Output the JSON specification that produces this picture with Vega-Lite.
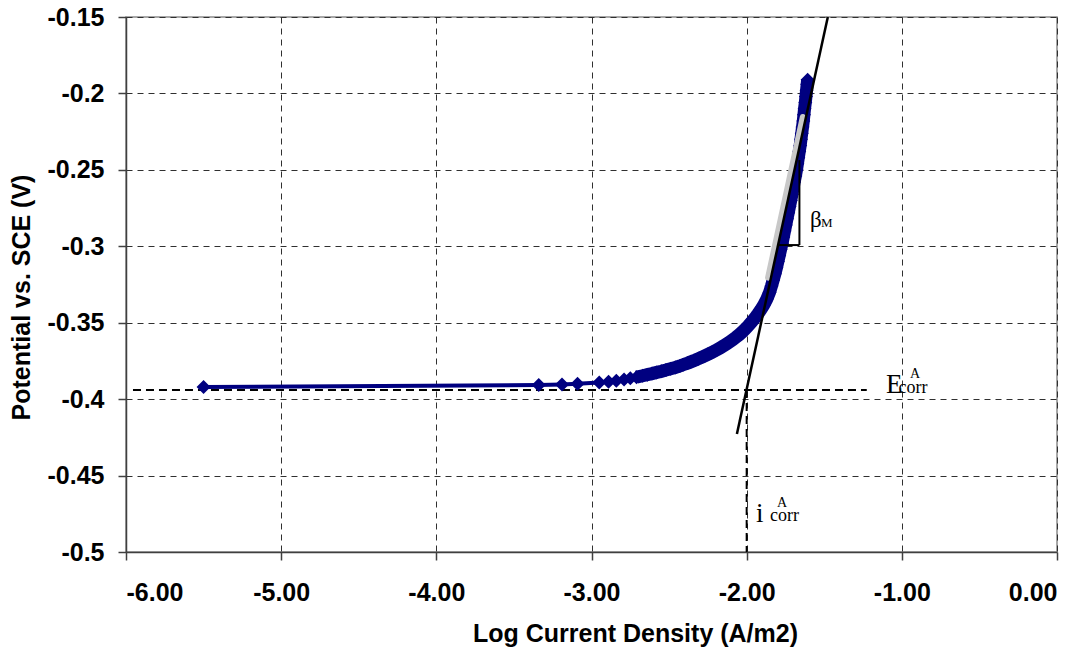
{
  "$schema": "https://vega.github.io/schema/vega-lite/v6.json",
  "width": 931,
  "height": 535,
  "autosize": {"type": "none"},
  "padding": {"left": 126, "top": 17, "right": 29, "bottom": 104},
  "background": "white",
  "datasets": {
    "polarization": [
      {"logI": -5.50, "E": -0.3920},
      {"logI": -3.34, "E": -0.3908},
      {"logI": -3.19, "E": -0.3904},
      {"logI": -3.09, "E": -0.3900},
      {"logI": -2.95, "E": -0.3891},
      {"logI": -2.89, "E": -0.3886},
      {"logI": -2.84, "E": -0.3879},
      {"logI": -2.79, "E": -0.3871},
      {"logI": -2.75, "E": -0.3864},
      {"logI": -2.71, "E": -0.3856},
      {"logI": -2.67, "E": -0.3847},
      {"logI": -2.64, "E": -0.3840},
      {"logI": -2.61, "E": -0.3833},
      {"logI": -2.58, "E": -0.3825},
      {"logI": -2.55, "E": -0.3818},
      {"logI": -2.52, "E": -0.3810},
      {"logI": -2.49, "E": -0.3801},
      {"logI": -2.46, "E": -0.3793},
      {"logI": -2.43, "E": -0.3783},
      {"logI": -2.41, "E": -0.3775},
      {"logI": -2.38, "E": -0.3764},
      {"logI": -2.36, "E": -0.3756},
      {"logI": -2.33, "E": -0.3744},
      {"logI": -2.31, "E": -0.3735},
      {"logI": -2.29, "E": -0.3726},
      {"logI": -2.27, "E": -0.3717},
      {"logI": -2.25, "E": -0.3707},
      {"logI": -2.23, "E": -0.3697},
      {"logI": -2.21, "E": -0.3687},
      {"logI": -2.19, "E": -0.3676},
      {"logI": -2.17, "E": -0.3664},
      {"logI": -2.15, "E": -0.3652},
      {"logI": -2.13, "E": -0.3639},
      {"logI": -2.11, "E": -0.3626},
      {"logI": -2.09, "E": -0.3611},
      {"logI": -2.07, "E": -0.3596},
      {"logI": -2.05, "E": -0.3580},
      {"logI": -2.03, "E": -0.3562},
      {"logI": -2.01, "E": -0.3542},
      {"logI": -1.99, "E": -0.3521},
      {"logI": -1.97, "E": -0.3498},
      {"logI": -1.95, "E": -0.3473},
      {"logI": -1.93, "E": -0.3446},
      {"logI": -1.91, "E": -0.3416},
      {"logI": -1.89, "E": -0.3384},
      {"logI": -1.87, "E": -0.3345},
      {"logI": -1.852, "E": -0.330},
      {"logI": -1.840, "E": -0.326},
      {"logI": -1.829, "E": -0.322},
      {"logI": -1.818, "E": -0.318},
      {"logI": -1.808, "E": -0.314},
      {"logI": -1.799, "E": -0.310},
      {"logI": -1.790, "E": -0.306},
      {"logI": -1.781, "E": -0.302},
      {"logI": -1.772, "E": -0.298},
      {"logI": -1.764, "E": -0.294},
      {"logI": -1.756, "E": -0.290},
      {"logI": -1.748, "E": -0.286},
      {"logI": -1.740, "E": -0.282},
      {"logI": -1.732, "E": -0.278},
      {"logI": -1.724, "E": -0.274},
      {"logI": -1.716, "E": -0.270},
      {"logI": -1.708, "E": -0.266},
      {"logI": -1.701, "E": -0.262},
      {"logI": -1.694, "E": -0.258},
      {"logI": -1.686, "E": -0.254},
      {"logI": -1.679, "E": -0.250},
      {"logI": -1.673, "E": -0.246},
      {"logI": -1.667, "E": -0.242},
      {"logI": -1.661, "E": -0.238},
      {"logI": -1.655, "E": -0.234},
      {"logI": -1.650, "E": -0.230},
      {"logI": -1.645, "E": -0.226},
      {"logI": -1.640, "E": -0.222},
      {"logI": -1.635, "E": -0.218},
      {"logI": -1.631, "E": -0.214},
      {"logI": -1.627, "E": -0.210},
      {"logI": -1.622, "E": -0.206},
      {"logI": -1.618, "E": -0.202},
      {"logI": -1.614, "E": -0.198},
      {"logI": -1.610, "E": -0.194},
      {"logI": -1.607, "E": -0.191}
    ],
    "tafel": [
      {"logI": -2.063, "E": -0.4228},
      {"logI": -1.477, "E": -0.15}
    ],
    "shade": [
      {"logI": -1.862, "E": -0.3205},
      {"logI": -1.638, "E": -0.2154}
    ],
    "guides": [
      {"x1": -5.955, "y1": -0.394, "x2": -1.226, "y2": -0.394},
      {"x1": -2.0, "y1": -0.394, "x2": -2.0, "y2": -0.5}
    ],
    "slope": [
      {"x1": -1.660, "y1": -0.2436, "x2": -1.660, "y2": -0.2992},
      {"x1": -1.793, "y1": -0.2992, "x2": -1.660, "y2": -0.2992}
    ],
    "notes": [
      {"x": -1.102, "y": -0.396, "t": "E", "kind": "main"},
      {"x": -1.022, "y": -0.396, "t": "corr", "kind": "sub"},
      {"x": -0.915, "y": -0.3862, "t": "A", "kind": "sup"},
      {"x": -1.940, "y": -0.4804, "t": "i", "kind": "main"},
      {"x": -1.850, "y": -0.4797, "t": "corr", "kind": "sub"},
      {"x": -1.772, "y": -0.4706, "t": "A", "kind": "sup"},
      {"x": -1.592, "y": -0.2874, "t": "β", "kind": "beta"},
      {"x": -1.521, "y": -0.2874, "t": "M", "kind": "betaSub"}
    ]
  },
  "encoding": {
    "x": {
      "field": "logI",
      "type": "quantitative",
      "scale": {"domain": [-6, 0], "nice": false, "zero": false},
      "axis": {
        "title": "Log Current Density (A/m2)",
        "values": [-6, -5, -4, -3, -2, -1, 0],
        "labelExpr": "replace(format(datum.value, '.2f'), '\u2212', '-')",
        "labelPadding": 20,
        "titleX": 509,
        "titleY": 89,
        "titleBaseline": "alphabetic",
        "titleAnchor": null
      }
    },
    "y": {
      "field": "E",
      "type": "quantitative",
      "scale": {"domain": [-0.5, -0.15], "nice": false, "zero": false},
      "axis": {
        "title": "Potential vs. SCE (V)",
        "values": [-0.5, -0.45, -0.4, -0.35, -0.3, -0.25, -0.2, -0.15],
        "labelExpr": "replace(format(datum.value, '.2~f'), '\u2212', '-')",
        "labelPadding": 14,
        "titleAngle": 270,
        "titleX": -97,
        "titleY": 280,
        "titleAlign": "center",
        "titleBaseline": "alphabetic",
        "titleAnchor": null
      }
    }
  },
  "layer": [
    {
      "data": {"name": "guides"},
      "mark": {"type": "rule", "color": "#000000", "strokeWidth": 2, "strokeDash": [8, 5]},
      "encoding": {
        "x": {"field": "x1", "type": "quantitative"},
        "y": {"field": "y1", "type": "quantitative"},
        "x2": {"field": "x2"},
        "y2": {"field": "y2"}
      }
    },
    {
      "data": {"name": "polarization"},
      "transform": [{"filter": "datum.logI >= -2.72"}],
      "mark": {"type": "line", "color": "#000080", "strokeWidth": 13, "strokeCap": "butt"},
      "encoding": {}
    },
    {
      "data": {"name": "polarization"},
      "mark": {
        "type": "line",
        "color": "#000080",
        "strokeWidth": 4,
        "point": {"shape": "diamond", "size": 196, "filled": true, "color": "#000080", "opacity": 1}
      },
      "encoding": {}
    },
    {
      "data": {"name": "shade"},
      "mark": {"type": "line", "color": "#c8c8c8", "strokeWidth": 6, "strokeCap": "round"},
      "encoding": {}
    },
    {
      "data": {"name": "tafel"},
      "mark": {"type": "line", "color": "#000000", "strokeWidth": 2.5},
      "encoding": {}
    },
    {
      "data": {"name": "slope"},
      "mark": {"type": "rule", "color": "#000000", "strokeWidth": 2},
      "encoding": {
        "x": {"field": "x1", "type": "quantitative"},
        "y": {"field": "y1", "type": "quantitative"},
        "x2": {"field": "x2"},
        "y2": {"field": "y2"}
      }
    },
    {
      "data": {"name": "notes"},
      "transform": [{"filter": "datum.kind == 'main'"}],
      "mark": {"type": "text", "font": "Liberation Serif", "fontSize": 27, "align": "left", "baseline": "alphabetic", "color": "#000000"},
      "encoding": {
        "x": {"field": "x", "type": "quantitative"},
        "y": {"field": "y", "type": "quantitative"},
        "text": {"field": "t"}
      }
    },
    {
      "data": {"name": "notes"},
      "transform": [{"filter": "datum.kind == 'sub'"}],
      "mark": {"type": "text", "font": "Liberation Serif", "fontSize": 18, "align": "left", "baseline": "alphabetic", "color": "#000000"},
      "encoding": {
        "x": {"field": "x", "type": "quantitative"},
        "y": {"field": "y", "type": "quantitative"},
        "text": {"field": "t"}
      }
    },
    {
      "data": {"name": "notes"},
      "transform": [{"filter": "datum.kind == 'sup'"}],
      "mark": {"type": "text", "font": "Liberation Serif", "fontSize": 14, "align": "center", "baseline": "alphabetic", "color": "#000000"},
      "encoding": {
        "x": {"field": "x", "type": "quantitative"},
        "y": {"field": "y", "type": "quantitative"},
        "text": {"field": "t"}
      }
    },
    {
      "data": {"name": "notes"},
      "transform": [{"filter": "datum.kind == 'beta'"}],
      "mark": {"type": "text", "font": "Liberation Serif", "fontSize": 23, "align": "left", "baseline": "alphabetic", "color": "#000000"},
      "encoding": {
        "x": {"field": "x", "type": "quantitative"},
        "y": {"field": "y", "type": "quantitative"},
        "text": {"field": "t"}
      }
    },
    {
      "data": {"name": "notes"},
      "transform": [{"filter": "datum.kind == 'betaSub'"}],
      "mark": {"type": "text", "font": "Liberation Serif", "fontSize": 13, "align": "left", "baseline": "alphabetic", "color": "#000000"},
      "encoding": {
        "x": {"field": "x", "type": "quantitative"},
        "y": {"field": "y", "type": "quantitative"},
        "text": {"field": "t"}
      }
    }
  ],
  "config": {
    "view": {"stroke": "#8c8c8c", "strokeWidth": 1.5},
    "axis": {
      "labelFont": "Liberation Sans",
      "labelFontSize": 25,
      "labelFontWeight": "bold",
      "labelColor": "#000000",
      "titleFont": "Liberation Sans",
      "titleFontSize": 25,
      "titleFontWeight": "bold",
      "titleColor": "#000000",
      "domainColor": "#404040",
      "domainWidth": 1.5,
      "tickColor": "#404040",
      "tickWidth": 1.5,
      "tickSize": 8,
      "grid": true,
      "gridColor": "#303030",
      "gridWidth": 1,
      "gridDash": [6, 5],
      "gridOpacity": 1
    }
  }
}
